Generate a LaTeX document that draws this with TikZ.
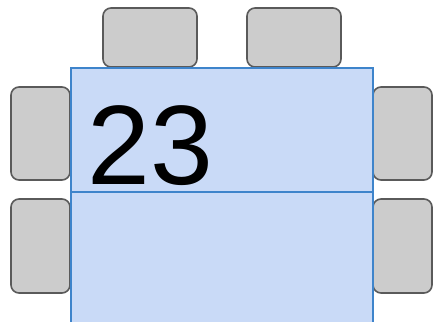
\documentclass[tikz,border=0pt]{standalone}
\usepackage{fontspec}
\setmainfont{Liberation Sans}
\definecolor{chairfill}{RGB}{204,204,204}
\definecolor{chairline}{RGB}{90,90,90}
\definecolor{tablefill}{RGB}{201,218,247}
\definecolor{tableline}{RGB}{62,132,203}
\begin{document}
\begin{tikzpicture}[x=1pt,y=-1pt,
  chair/.style={draw=chairline,fill=chairfill,line width=1.6pt,rounded corners=8pt},
  tablepart/.style={draw=tableline,fill=tablefill,line width=2pt}]
\useasboundingbox (0,0) rectangle (435,321);
\clip (0,0) rectangle (435,321);
\draw[chair] (103,8) rectangle (197,67);
\draw[chair] (247,8) rectangle (341,67);
\draw[chair] (11,87) rectangle (70,180);
\draw[chair] (11,199) rectangle (70,293);
\draw[chair] (373,87) rectangle (432,180);
\draw[chair] (373,199) rectangle (432,293);
\draw[tablepart] (71,68) rectangle (372.5,191.5);
\draw[tablepart] (71,191.5) rectangle (372.5,330);
\node[anchor=base west,inner sep=0pt,font=\fontsize{113}{113}\selectfont] (num) at (87,184) {23};
\end{tikzpicture}
\end{document}
